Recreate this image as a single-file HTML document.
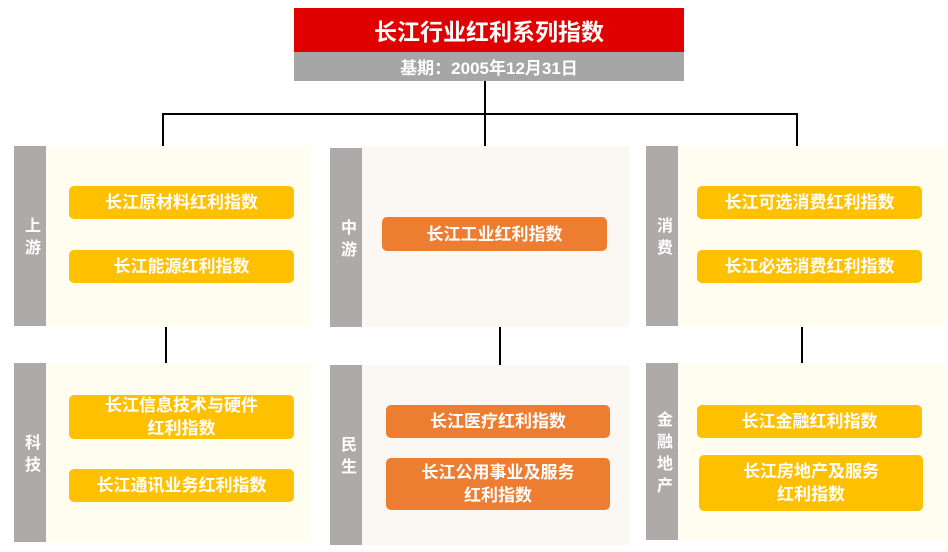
<!DOCTYPE html>
<html><head><meta charset="utf-8"><style>
body{margin:0;width:948px;height:552px;background:#fff;position:relative;overflow:hidden;font-family:"Liberation Sans","Noto Sans CJK SC",sans-serif;font-weight:bold;color:#fff}
div{position:absolute;box-sizing:border-box}
.t{display:flex;align-items:center;justify-content:center;text-align:center}
.bar{background:#AEAAAA;width:32px;font-size:16px;letter-spacing:6px;writing-mode:vertical-rl;text-orientation:upright;display:flex;align-items:center;justify-content:center;padding-top:6px}
.bgy{background:#FFFCF0}.bgm{background:#FBF7F2}
.y{background:#FFC000;border-radius:5px;font-size:17px;line-height:23px;display:flex;align-items:center;justify-content:center;text-align:center}
.o{background:#ED7D31;border-radius:5px;font-size:17px;line-height:23px;display:flex;align-items:center;justify-content:center;text-align:center}
.l{background:#000}
</style></head><body>
<div class="t" style="left:294px;top:8px;width:390px;height:44px;background:#E00000;font-size:23px">长江行业红利系列指数</div>
<div class="t" style="left:294px;top:52px;width:390px;height:29px;background:#A6A6A6;font-size:17px">基期：2005年12月31日</div>
<div class="l" style="left:484px;top:81px;width:2px;height:34px"></div>
<div class="l" style="left:162px;top:113px;width:636px;height:2px"></div>
<div class="l" style="left:162px;top:113px;width:2px;height:33px"></div>
<div class="l" style="left:484px;top:113px;width:2px;height:35px"></div>
<div class="l" style="left:796px;top:113px;width:2px;height:33px"></div>
<div class="l" style="left:165px;top:327px;width:2px;height:36px"></div>
<div class="l" style="left:499px;top:327px;width:2px;height:38px"></div>
<div class="l" style="left:801px;top:327px;width:2px;height:36px"></div>

<div class="bgy" style="left:46px;top:146px;width:265px;height:180px"></div>
<div class="bar" style="left:14px;top:146px;height:180px">上游</div>
<div class="y" style="left:69px;top:186px;width:225px;height:33px">长江原材料红利指数</div>
<div class="y" style="left:69px;top:250px;width:225px;height:33px">长江能源红利指数</div>

<div class="bgm" style="left:362px;top:146px;width:267px;height:181px"></div>
<div class="bar" style="left:330px;top:148px;height:179px">中游</div>
<div class="o" style="left:382px;top:217px;width:225px;height:34px">长江工业红利指数</div>

<div class="bgy" style="left:678px;top:146px;width:267px;height:180px"></div>
<div class="bar" style="left:646px;top:146px;height:180px">消费</div>
<div class="y" style="left:697px;top:186px;width:225px;height:33px">长江可选消费红利指数</div>
<div class="y" style="left:697px;top:250px;width:225px;height:33px">长江必选消费红利指数</div>

<div class="bgy" style="left:46px;top:363px;width:265px;height:179px"></div>
<div class="bar" style="left:14px;top:363px;height:179px">科技</div>
<div class="y" style="left:69px;top:395px;width:225px;height:44px">长江信息技术与硬件<br>红利指数</div>
<div class="y" style="left:69px;top:469px;width:225px;height:33px">长江通讯业务红利指数</div>

<div class="bgm" style="left:362px;top:365px;width:267px;height:180px"></div>
<div class="bar" style="left:330px;top:365px;height:180px">民生</div>
<div class="o" style="left:386px;top:405px;width:224px;height:33px">长江医疗红利指数</div>
<div class="o" style="left:386px;top:458px;width:224px;height:52px">长江公用事业及服务<br>红利指数</div>

<div class="bgy" style="left:678px;top:363px;width:267px;height:177px"></div>
<div class="bar" style="left:646px;top:363px;height:177px">金融地产</div>
<div class="y" style="left:697px;top:405px;width:225px;height:33px">长江金融红利指数</div>
<div class="y" style="left:699px;top:455px;width:224px;height:56px">长江房地产及服务<br>红利指数</div>
</body></html>
